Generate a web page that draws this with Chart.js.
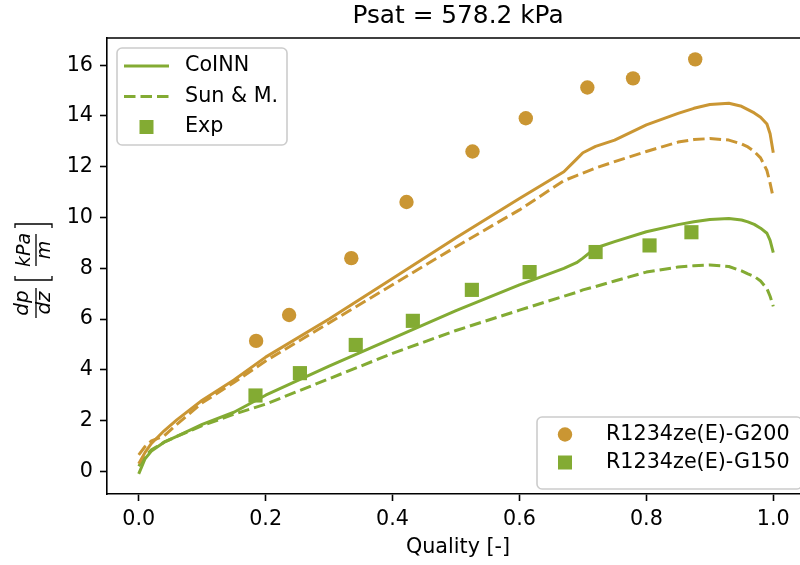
<!DOCTYPE html>
<html>
<head>
<meta charset="utf-8">
<title>Psat = 578.2 kPa</title>
<script src="https://cdn.jsdelivr.net/npm/chart.js@4.4.1/dist/chart.umd.min.js"></script>
<style>
  html, body { margin: 0; padding: 0; background: #fff; overflow: hidden; }
  #wrap { position: relative; width: 815px; height: 565px; }
</style>
</head>
<body>
<div id="wrap"><canvas id="chart" width="815" height="565"></canvas></div>
<script>
const quality = [0, 0.01, 0.02, 0.04, 0.06, 0.1, 0.15, 0.2, 0.3, 0.4, 0.5, 0.6, 0.67, 0.69, 0.7, 0.72, 0.75, 0.8, 0.85, 0.875, 0.9, 0.93, 0.95, 0.96, 0.97, 0.98, 0.99, 0.995, 1.0]
const coinnG200 = [0.3, 0.75, 1.1, 1.6, 2.03, 2.8, 3.6, 4.5, 6.0, 7.6, 9.2, 10.75, 11.8, 12.3, 12.55, 12.8, 13.05, 13.65, 14.1, 14.3, 14.45, 14.5, 14.38, 14.25, 14.12, 13.95, 13.68, 13.3, 12.55]
const sunG200 = [0.65, 0.98, 1.2, 1.4, 1.85, 2.7, 3.5, 4.35, 5.85, 7.35, 8.85, 10.3, 11.45, 11.65, 11.75, 11.95, 12.2, 12.6, 12.97, 13.07, 13.11, 13.05, 12.9, 12.78, 12.6, 12.35, 11.85, 11.35, 10.78]
const coinnG150 = [-0.1, 0.5, 0.8, 1.15, 1.38, 1.85, 2.33, 3.0, 4.15, 5.24, 6.33, 7.35, 8.0, 8.22, 8.4, 8.8, 9.05, 9.44, 9.72, 9.83, 9.92, 9.96, 9.9, 9.83, 9.73, 9.58, 9.38, 9.1, 8.62]
const sunG150 = [0.2, 0.6, 0.85, 1.15, 1.38, 1.8, 2.25, 2.65, 3.65, 4.65, 5.55, 6.35, 6.9, 7.05, 7.15, 7.28, 7.5, 7.85, 8.05, 8.1, 8.13, 8.07, 7.9, 7.78, 7.68, 7.5, 7.2, 6.9, 6.5]

const expQualityG200 = [0.185, 0.237, 0.335, 0.422, 0.526, 0.610, 0.707, 0.779, 0.877]
const expG200 = [5.14, 6.16, 8.40, 10.61, 12.6, 13.91, 15.12, 15.48, 16.23]
const expQualityG150 = [0.184, 0.254, 0.342, 0.432, 0.525, 0.616, 0.72, 0.805, 0.871]
const expG150 = [2.99, 3.87, 4.98, 5.93, 7.15, 7.85, 8.64, 8.9, 9.42]

const xTicks = [0, 0.2, 0.4, 0.6, 0.8, 1.0]
const yTicks = [0, 2, 4, 6, 8, 10, 12, 14, 16]

const modelNames = ['CoINN', 'Sun & M.', 'Exp']
const seriesNames = ['R1234ze(E)-G200', 'R1234ze(E)-G150']

const ORANGE = '#CA9633'
const GREEN = '#83AB33'
const FONT = 'DejaVu Sans'
const DASH = [11.5, 5]

function pts(xs, ys) {
  return xs.map((x, i) => ({ x, y: ys[i] }))
}

function lineSet(label, ys, color, dashed) {
  return {
    label,
    data: pts(quality, ys),
    showLine: true,
    borderColor: color,
    backgroundColor: color,
    borderWidth: 3,
    borderDash: dashed ? DASH : [],
    borderJoinStyle: 'round',
    pointRadius: 0,
    tension: 0,
    order: 2
  }
}

function drawFrame(ctx, x, y, w, h) {
  ctx.save()
  ctx.beginPath()
  if (ctx.roundRect) ctx.roundRect(x, y, w, h, 5)
  else ctx.rect(x, y, w, h)
  ctx.fillStyle = 'rgba(255,255,255,0.8)'
  ctx.fill()
  ctx.strokeStyle = '#cccccc'
  ctx.lineWidth = 1.6
  ctx.stroke()
  ctx.restore()
}

function drawLabel(ctx, text, x, y) {
  ctx.fillStyle = '#000'
  ctx.font = `20.7px "${FONT}"`
  ctx.textAlign = 'left'
  ctx.textBaseline = 'middle'
  ctx.fillText(text, x, y)
}

function drawLegends(ctx) {
  // model legend, upper left
  drawFrame(ctx, 117, 48, 170, 97)
  const rows = [66, 96.5, 127]
  ctx.save()
  ctx.strokeStyle = GREEN
  ctx.lineWidth = 3
  ctx.beginPath(); ctx.moveTo(124, rows[0]); ctx.lineTo(169, rows[0]); ctx.stroke()
  ctx.setLineDash(DASH)
  ctx.beginPath(); ctx.moveTo(124, rows[1]); ctx.lineTo(169, rows[1]); ctx.stroke()
  ctx.setLineDash([])
  ctx.fillStyle = GREEN
  ctx.fillRect(146.5 - 7, rows[2] - 7, 14, 14)
  ctx.restore()
  modelNames.forEach((n, i) => drawLabel(ctx, n, 185, rows[i]))

  // series legend, lower right
  drawFrame(ctx, 537, 417, 265, 72)
  const rows2 = [434.5, 462.5]
  ctx.save()
  ctx.fillStyle = ORANGE
  ctx.beginPath(); ctx.arc(565, rows2[0], 7.2, 0, Math.PI * 2); ctx.fill()
  ctx.fillStyle = GREEN
  ctx.fillRect(565 - 7, rows2[1] - 7, 14, 14)
  ctx.restore()
  seriesNames.forEach((n, i) => drawLabel(ctx, n, 606, rows2[i]))
}

function drawYLabel(ctx) {
  // dp/dz [kPa/m], rotated
  ctx.save()
  ctx.translate(36, 271)
  ctx.rotate(-Math.PI / 2)
  ctx.fillStyle = '#000'
  ctx.strokeStyle = '#000'
  ctx.textAlign = 'center'
  ctx.textBaseline = 'alphabetic'
  ctx.font = `italic 20px "${FONT}"`
  ctx.fillText('dp', -32, -8)
  ctx.fillText('dz', -32, 14)
  ctx.lineWidth = 1.3
  ctx.beginPath(); ctx.moveTo(-47, 0); ctx.lineTo(-17, 0); ctx.stroke()
  ctx.font = `italic 19px "${FONT}"`
  ctx.fillText('kPa', 21, -6)
  ctx.fillText('m', 21, 14)
  ctx.beginPath(); ctx.moveTo(5, 0); ctx.lineTo(37, 0); ctx.stroke()
  // brackets
  ctx.beginPath()
  ctx.moveTo(-5, -21); ctx.lineTo(-9, -21); ctx.lineTo(-9, 16); ctx.lineTo(-5, 16)
  ctx.moveTo(43, -21); ctx.lineTo(47, -21); ctx.lineTo(47, 16); ctx.lineTo(43, 16)
  ctx.stroke()
  ctx.restore()
}

const decorPlugin = {
  id: 'decor',
  afterDraw(chart) {
    const { ctx, chartArea } = chart
    ctx.save()
    // top and right spines
    ctx.strokeStyle = '#000'
    ctx.lineWidth = 1.6
    ctx.beginPath()
    ctx.moveTo(chartArea.left, chartArea.top)
    ctx.lineTo(chartArea.right, chartArea.top)
    ctx.lineTo(chartArea.right, chartArea.bottom)
    ctx.stroke()
    // title
    ctx.fillStyle = '#000'
    ctx.textAlign = 'center'
    ctx.textBaseline = 'middle'
    ctx.font = `24.8px "${FONT}"`
    ctx.fillText('Psat = 578.2 kPa', 458, 17)
    // x label
    ctx.font = `20.7px "${FONT}"`
    ctx.fillText('Quality [-]', 458, 548)
    ctx.restore()
    drawYLabel(ctx)
    drawLegends(ctx)
  }
}

const tickFont = { family: FONT, size: 20.7 }

new Chart(document.getElementById('chart'), {
  type: 'scatter',
  data: {
    datasets: [
      {
        label: seriesNames[0],
        data: pts(expQualityG200, expG200),
        pointStyle: 'circle',
        pointRadius: 7.2,
        backgroundColor: ORANGE,
        borderWidth: 0,
        order: 0
      },
      {
        label: seriesNames[1],
        data: pts(expQualityG150, expG150),
        pointStyle: 'rect',
        pointRadius: 10,
        backgroundColor: GREEN,
        borderWidth: 0,
        order: 0
      },
      lineSet('CoINN G200', coinnG200, ORANGE, false),
      lineSet('Sun & M. G200', sunG200, ORANGE, true),
      lineSet('CoINN G150', coinnG150, GREEN, false),
      lineSet('Sun & M. G150', sunG150, GREEN, true)
    ]
  },
  options: {
    responsive: false,
    animation: false,
    events: [],
    layout: { padding: { top: 38, right: 5, left: 0, bottom: 0 } },
    plugins: {
      legend: { display: false },
      title: { display: false },
      tooltip: { enabled: false }
    },
    scales: {
      x: {
        type: 'linear',
        min: -0.05,
        max: 1.05,
        afterBuildTicks: s => { s.ticks = xTicks.map(v => ({ value: v })) },
        afterFit: s => { s.height = 71 },
        ticks: {
          callback: v => Number(v).toFixed(1),
          font: tickFont,
          color: '#000',
          padding: 6,
          maxRotation: 0,
          autoSkip: false
        },
        grid: { drawOnChartArea: false, drawTicks: true, tickLength: 7, tickWidth: 1.6, tickColor: '#000' },
        border: { display: true, color: '#000', width: 1.6 }
      },
      y: {
        type: 'linear',
        min: -0.89,
        max: 17.07,
        afterBuildTicks: s => { s.ticks = yTicks.map(v => ({ value: v })) },
        afterFit: s => { s.width = 107 },
        ticks: {
          callback: v => String(v),
          font: tickFont,
          color: '#000',
          padding: 7,
          autoSkip: false
        },
        grid: { drawOnChartArea: false, drawTicks: true, tickLength: 7, tickWidth: 1.6, tickColor: '#000' },
        border: { display: true, color: '#000', width: 1.6 }
      }
    }
  },
  plugins: [decorPlugin]
})
</script>
</body>
</html>
